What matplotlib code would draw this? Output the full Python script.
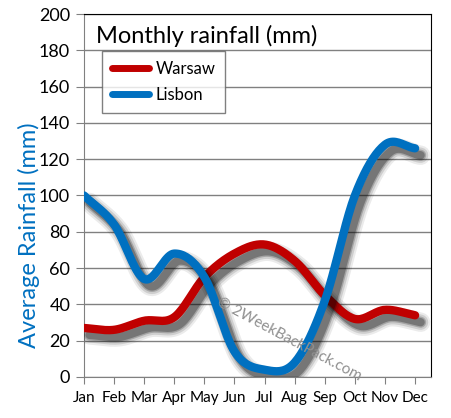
import numpy as np
import matplotlib
matplotlib.use("Agg")
import matplotlib.pyplot as plt
import matplotlib.patheffects as pe

plt.rcParams["font.family"] = ["Lato", "DejaVu Sans"]

# ============ Data ============
months = ["Jan", "Feb", "Mar", "Apr", "May", "Jun", "Jul", "Aug", "Sep", "Oct", "Nov", "Dec"]
warsaw = [27, 26, 31, 33, 55, 68, 73, 64, 45, 32, 37, 34]
lisbon = [100, 84, 54, 68, 55, 14, 4, 8, 42, 100, 128, 126]
yticks = [0, 20, 40, 60, 80, 100, 120, 140, 160, 180, 200]

RED = "#c00000"
BLUE = "#0070c0"


def smooth(y, n=20):
    """Catmull-Rom through the monthly values."""
    y = np.asarray(y, dtype=float)
    p = np.concatenate([[2 * y[0] - y[1]], y, [2 * y[-1] - y[-2]]])
    xs, ys = [], []
    for i in range(len(y) - 1):
        p0, p1, p2, p3 = p[i], p[i + 1], p[i + 2], p[i + 3]
        t = np.linspace(0, 1, n, endpoint=False)
        v = 0.5 * ((2 * p1) + (-p0 + p2) * t + (2 * p0 - 5 * p1 + 4 * p2 - p3) * t ** 2
                   + (-p0 + 3 * p1 - 3 * p2 + p3) * t ** 3)
        xs.append(i + t)
        ys.append(v)
    xs.append([len(y) - 1])
    ys.append([y[-1]])
    return np.concatenate(xs), np.concatenate(ys)


def shadow_effects():
    fx = []
    for w, a in [(14, 0.08), (11, 0.12), (8, 0.2), (6, 0.28)]:
        fx.append(pe.SimpleLineShadow(offset=(4, -5), shadow_color="black", alpha=a,
                                      linewidth=w))
    fx.append(pe.Normal())
    return fx


fig = plt.figure(figsize=(4.51, 4.18), dpi=100)
ax = fig.add_axes([0.1863, 0.0981, 0.7694, 0.8684])

for vals, color, name in [(warsaw, RED, "Warsaw"), (lisbon, BLUE, "Lisbon")]:
    x, y = smooth(vals)
    ax.plot(x, y, color=color, lw=6, solid_capstyle="round", label=name,
            path_effects=shadow_effects(), zorder=3)

ax.set_xlim(0, 11.53)
ax.set_ylim(0, 200)
ax.set_yticks(yticks)
ax.set_xticks(range(len(months)))
ax.set_xticklabels(months)
ax.grid(axis="y", color="#808080", lw=1)
ax.set_axisbelow(True)
ax.tick_params(axis="y", length=6, color="#808080", labelsize=13, pad=4)
ax.tick_params(axis="x", length=5, color="#808080", labelsize=11, pad=5)
for s in ["left", "bottom"]:
    ax.spines[s].set_color("#808080")
for s in ["top", "right"]:
    ax.spines[s].set_color("black")

ax.set_ylabel("Average Rainfall (mm)", color=BLUE, fontsize=17)
ax.yaxis.set_label_coords(-0.127, 0.39)
ax.text(0.035, 0.97, "Monthly rainfall (mm)", transform=ax.transAxes,
        fontsize=17, va="top", ha="left")

leg = ax.legend(loc="upper left", bbox_to_anchor=(0.052, 0.898), fontsize=12,
                frameon=True, fancybox=False, handlelength=2.2, borderpad=0.6,
                labelspacing=0.6, borderaxespad=0, handletextpad=0.4)
leg.get_frame().set_edgecolor("#606060")
leg.get_frame().set_linewidth(1)
for h in leg.get_lines():
    h.set_path_effects([])
    h.set_linewidth(5)

ax.text(0.59, 0.105, "© 2WeekBackPack.com", transform=ax.transAxes, rotation=-28,
        fontsize=11, color="#909090", ha="center", va="center", zorder=4)

fig.savefig("out.png", dpi=100)
